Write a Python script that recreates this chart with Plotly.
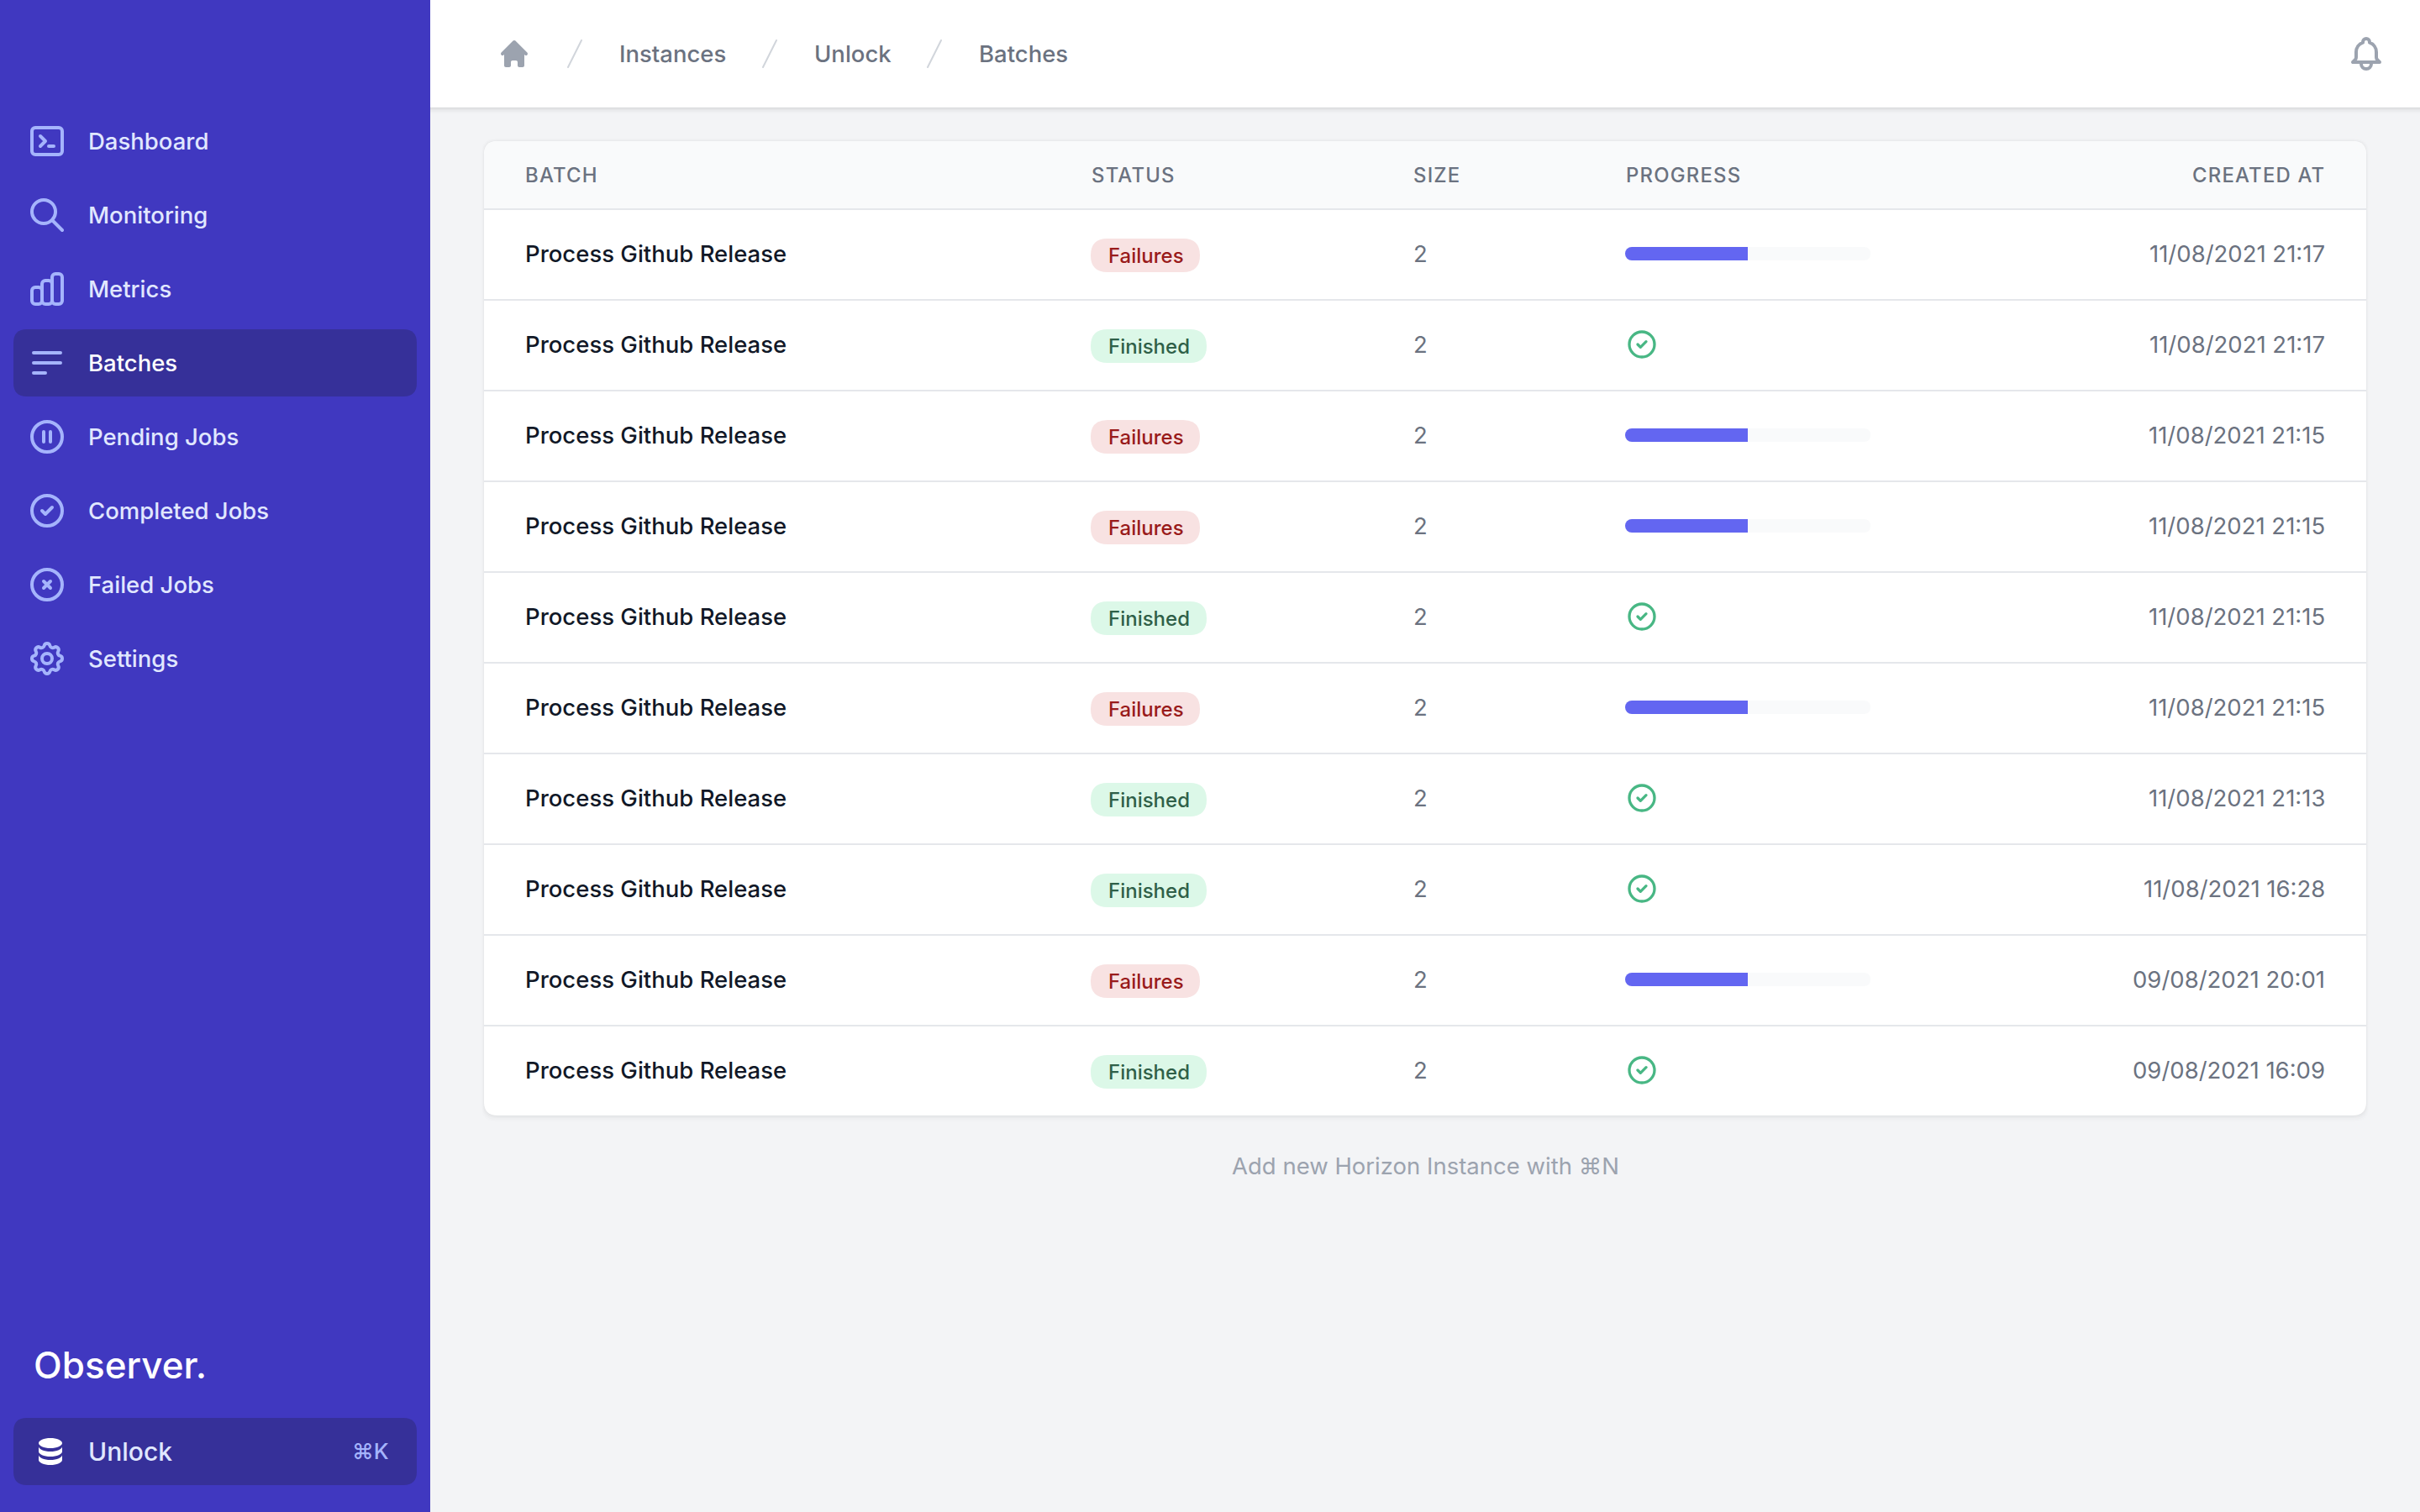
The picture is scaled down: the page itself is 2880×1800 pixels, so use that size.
import math
import re
import plotly.graph_objects as go

WIDTH = 2880
HEIGHT = 1800

# table content
batch_names = ["Process Github Release"] * 10
statuses = ["Failures", "Finished", "Failures", "Failures", "Finished",
            "Failures", "Finished", "Finished", "Failures", "Finished"]
sizes = [2, 2, 2, 2, 2, 2, 2, 2, 2, 2]
progress = [50, 100, 50, 50, 100, 50, 100, 100, 50, 100]
created_at = ["11/08/2021 21:17", "11/08/2021 21:17", "11/08/2021 21:15",
              "11/08/2021 21:15", "11/08/2021 21:15", "11/08/2021 21:15",
              "11/08/2021 21:13", "11/08/2021 16:28", "09/08/2021 20:01",
              "09/08/2021 16:09"]
columns = ["BATCH", "STATUS", "SIZE", "PROGRESS", "CREATED AT"]
menu_items = ["Dashboard", "Monitoring", "Metrics", "Batches", "Pending Jobs",
              "Completed Jobs", "Failed Jobs", "Settings"]
crumbs = ["Instances", "Unlock", "Batches"]

FONT = "Inter, 'DejaVu Sans', sans-serif"
INDIGO = "#4038c0"
INDIGO_DARK = "#363099"
ROW_TOP = 248
ROW_H = 108
TEXT = 27.5

# heroicons
ICONS = {
    "Dashboard": "M8 9l3 3-3 3m5 0h3M5 20h14a2 2 0 002-2V6a2 2 0 00-2-2H5a2 2 0 00-2 2v12a2 2 0 002 2z",
    "Monitoring": "M21 21l-6-6m2-5a7 7 0 11-14 0 7 7 0 0114 0z",
    "Metrics": "M9 19v-6a2 2 0 00-2-2H5a2 2 0 00-2 2v6a2 2 0 002 2h2a2 2 0 002-2zm0 0V9a2 2 0 012-2h2a2 2 0 012 2v10m-6 0a2 2 0 002 2h2a2 2 0 002-2m0 0V5a2 2 0 012-2h2a2 2 0 012 2v14a2 2 0 01-2 2h-2a2 2 0 01-2-2z",
    "Batches": "M4 6h16M4 12h16M4 18h7",
    "Pending Jobs": "M10 9v6m4-6v6m7-3a9 9 0 11-18 0 9 9 0 0118 0z",
    "Completed Jobs": "M9 12l2 2 4-4m6 2a9 9 0 11-18 0 9 9 0 0118 0z",
    "Failed Jobs": "M10 14l2-2m0 0l2-2m-2 2l-2-2m2 2l2 2m7-2a9 9 0 11-18 0 9 9 0 0118 0z",
    "Settings": "M10.325 4.317c.426-1.756 2.924-1.756 3.35 0a1.724 1.724 0 002.573 1.066c1.543-.94 3.31.826 2.37 2.37a1.724 1.724 0 001.065 2.572c1.756.426 1.756 2.924 0 3.35a1.724 1.724 0 00-1.066 2.573c.94 1.543-.826 3.31-2.37 2.37a1.724 1.724 0 00-2.572 1.065c-.426 1.756-2.924 1.756-3.35 0a1.724 1.724 0 00-2.573-1.066c-1.543.94-3.31-.826-2.37-2.37a1.724 1.724 0 00-1.065-2.572c-1.756-.426-1.756-2.924 0-3.35a1.724 1.724 0 001.066-2.573c-.94-1.543.826-3.31 2.37-2.37.996.608 2.296.07 2.572-1.065zM15 12a3 3 0 11-6 0 3 3 0 016 0z",
}
BELL = "M15 17h5l-1.405-1.405A2.032 2.032 0 0118 14.158V11a6.002 6.002 0 00-4-5.659V5a2 2 0 10-4 0v.341C7.67 6.165 6 8.388 6 11v3.159c0 .538-.214 1.055-.595 1.436L4 17h5m6 0v1a3 3 0 11-6 0v-1m6 0H9"
HOME = "M10.707 2.293a1 1 0 00-1.414 0l-7 7a1 1 0 001.414 1.414L4 10.414V17a1 1 0 001 1h2a1 1 0 001-1v-2a1 1 0 011-1h2a1 1 0 011 1v2a1 1 0 001 1h2a1 1 0 001-1v-6.586l.293.293a1 1 0 001.414-1.414l-7-7z"
DATABASE = "M3 12v3c0 1.657 3.134 3 7 3s7-1.343 7-3v-3c0 1.657-3.134 3-7 3s-7-1.343-7-3zM3 7v3c0 1.657 3.134 3 7 3s7-1.343 7-3V7c0 1.657-3.134 3-7 3S3 8.657 3 7zM17 5c0 1.657-3.134 3-7 3S3 6.657 3 5s3.134-3 7-3 7 1.343 7 3z"
CHECK = ICONS["Completed Jobs"]

NUM = r"-?\d*\.?\d+"


def arc_args(args):
    # flags in svg arcs can be written with no separators
    out = []
    pos = 0
    while True:
        vals = []
        for kind in "nnnffnn":
            m = re.compile(r"[\s,]*").match(args, pos)
            pos = m.end()
            if pos >= len(args):
                return out
            if kind == "f":
                vals.append(int(args[pos]))
                pos += 1
            else:
                m = re.compile(NUM).match(args, pos)
                vals.append(float(m.group()))
                pos = m.end()
        out.append(vals)


def arc_to_cubics(x1, y1, r, large, sweep, x2, y2):
    dx, dy = (x1 - x2) / 2, (y1 - y2) / 2
    d2 = dx * dx + dy * dy
    if r * r < d2:
        r = math.sqrt(d2)
    k = math.sqrt(max(0, (r * r - d2) / d2))
    if large == sweep:
        k = -k
    cx = k * dy + (x1 + x2) / 2
    cy = -k * dx + (y1 + y2) / 2
    a1 = math.atan2(y1 - cy, x1 - cx)
    a2 = math.atan2(y2 - cy, x2 - cx)
    da = a2 - a1
    if sweep and da < 0:
        da += 2 * math.pi
    if not sweep and da > 0:
        da -= 2 * math.pi
    n = max(1, math.ceil(abs(da) / (math.pi / 2) - 1e-6))
    step = da / n
    t = 4 / 3 * math.tan(step / 4)
    segs = []
    for i in range(n):
        p = a1 + i * step
        q = p + step
        segs.append([cx + r * (math.cos(p) - t * math.sin(p)), cy + r * (math.sin(p) + t * math.cos(p)),
                     cx + r * (math.cos(q) + t * math.sin(q)), cy + r * (math.sin(q) - t * math.cos(q)),
                     cx + r * math.cos(q), cy + r * math.sin(q)])
    return segs


def icon_path(d, x0, y0, s):
    # plotly shape paths have no arcs, so write it all as M L C Z
    out = []
    cx = cy = sx = sy = 0
    last_c = None

    def pt(x, y):
        return f"{x0 + x * s:.2f},{y0 + y * s:.2f}"

    for cmd, args in re.findall(r"([MmLlHhVvCcSsAaZz])([^MmLlHhVvCcSsAaZz]*)", d):
        rel = cmd.islower()
        c = cmd.upper()
        if c == "Z":
            out.append("Z")
            cx, cy = sx, sy
            last_c = None
            continue
        if c == "A":
            for rx, ry, rot, large, sweep, x, y in arc_args(args):
                if rel:
                    x, y = x + cx, y + cy
                for b in arc_to_cubics(cx, cy, rx, large, sweep, x, y):
                    out.append(f"C{pt(b[0], b[1])} {pt(b[2], b[3])} {pt(b[4], b[5])}")
                cx, cy = x, y
            last_c = None
            continue
        nums = [float(v) for v in re.findall(NUM, args)]
        n = {"M": 2, "L": 2, "H": 1, "V": 1, "C": 6, "S": 4}[c]
        for i in range(0, len(nums), n):
            v = nums[i:i + n]
            if c == "H":
                x = v[0] + cx if rel else v[0]
                y = cy
            elif c == "V":
                x = cx
                y = v[0] + cy if rel else v[0]
            else:
                x = v[-2] + cx if rel else v[-2]
                y = v[-1] + cy if rel else v[-1]
            if c == "M":
                out.append("M" + pt(x, y))
                sx, sy = x, y
            elif c in "LHV":
                out.append("L" + pt(x, y))
            else:
                off = (cx, cy) if rel else (0, 0)
                if c == "C":
                    c1 = (v[0] + off[0], v[1] + off[1])
                    c2 = (v[2] + off[0], v[3] + off[1])
                else:
                    c1 = (2 * cx - last_c[0], 2 * cy - last_c[1]) if last_c else (cx, cy)
                    c2 = (v[0] + off[0], v[1] + off[1])
                out.append(f"C{pt(*c1)} {pt(*c2)} {pt(x, y)}")
                last_c = c2
            if c not in "CS":
                last_c = None
            cx, cy = x, y
    return " ".join(out)


def rrect(x0, y0, x1, y1, r, bottom=True):
    if bottom:
        end = f"L{x1},{y1 - r} Q{x1},{y1} {x1 - r},{y1} L{x0 + r},{y1} Q{x0},{y1} {x0},{y1 - r}"
    else:
        end = f"L{x1},{y1} L{x0},{y1}"
    return f"M{x0 + r},{y0} L{x1 - r},{y0} Q{x1},{y0} {x1},{y0 + r} {end} L{x0},{y0 + r} Q{x0},{y0} {x0 + r},{y0} Z"


shapes = []


def fill_shape(path, color):
    shapes.append(dict(type="path", path=path, xref="x", yref="y", fillcolor=color,
                       line=dict(width=0), layer="below"))


def stroke_shape(path, color, width):
    shapes.append(dict(type="path", path=path, xref="x", yref="y",
                       line=dict(color=color, width=width), layer="below"))


annotations = []


def label(text, x, y, size, color, anchor="left", weight=400):
    annotations.append(dict(text=text, x=x, y=y, xref="x", yref="y", xanchor=anchor, yanchor="middle",
                            showarrow=False, align=anchor, borderpad=0,
                            font=dict(family=FONT, size=size, color=color, weight=weight)))


# top bar with its shadow
for grow, alpha in [(7, 0.012), (5, 0.018), (3, 0.03), (1, 0.05)]:
    fill_shape(rrect(512, 0, WIDTH, 128 + grow, 0), f"rgba(0,0,0,{alpha})")
fill_shape(rrect(512, 0, WIDTH, 128, 0), "#ffffff")

# sidebar
fill_shape(rrect(0, 0, 512, HEIGHT, 0), INDIGO)
fill_shape(rrect(16, 392, 496, 472, 16), INDIGO_DARK)
fill_shape(rrect(16, 1688, 496, 1768, 16), INDIGO_DARK)
for i, item in enumerate(menu_items):
    yc = 168 + 88 * i
    stroke_shape(icon_path(ICONS[item], 32, yc - 24, 2), "#a5b4fc", 4)
    label(item, 103.5, yc, TEXT, "#ffffff" if item == "Batches" else "#e0e7ff", weight=500)
label("Observer.", 39, 1625, 44, "#ffffff", weight=500)
fill_shape(icon_path(DATABASE, 40, 1708, 2), "#ffffff")
label("Unlock", 103.5, 1728, 30, "#e0e7ff", weight=500)
label("⌘K", 464, 1727, 26, "#a5b4fc", anchor="right", weight=500)

# breadcrumb
fill_shape(icon_path(HOME, 592, 44, 2), "#9ca3af")
for text, tx, sx in zip(crumbs, [736, 968, 1164], [676, 908, 1104]):
    stroke_shape(f"M{sx},80 L{sx + 16},48", "#d1d5db", 2)
    label(text, tx, 64, TEXT, "#6b7280", weight=500)
stroke_shape(icon_path(BELL, 2792, 40, 2), "#9ca3af", 4)

# card
for grow, alpha in [(7, 0.008), (5, 0.012), (3, 0.02), (1, 0.03)]:
    fill_shape(rrect(576 - grow // 2, 168 - grow // 2, 2816 + grow // 2, 1328 + grow, 16), f"rgba(0,0,0,{alpha})")
fill_shape(rrect(576, 168, 2816, 1328, 16), "#ffffff")
fill_shape(rrect(576, 168, 2816, ROW_TOP, 16, bottom=False), "#f9fafb")

column_x = [623.5, 1297.5, 1681, 1934, 2768]
for j, text in enumerate(columns):
    spaced = f'<span style="letter-spacing:1.2px">{text}</span>'
    label(spaced, column_x[j], 208, 23.9, "#6b7280", anchor="right" if j == 4 else "left", weight=500)

for i in range(len(batch_names)):
    yc = ROW_TOP + ROW_H * i + ROW_H // 2
    line_y = ROW_TOP + ROW_H * i
    fill_shape(rrect(576, line_y, 2816, line_y + 2, 0), "#e5e7eb")
    label(batch_names[i], column_x[0], yc, TEXT, "#111827", weight=500)
    label(str(sizes[i]), column_x[2], yc, TEXT, "#6b7280")
    label(created_at[i], column_x[4], yc, TEXT, "#6b7280", anchor="right")
    if statuses[i] == "Failures":
        fill_shape(rrect(1298, yc - 18, 1428, yc + 22, 20), "#f8e2e2")
        label(statuses[i], 1317.5, yc + 2, 24, "#991b1b", weight=500)
        fill_shape(rrect(1934, yc - 8, 2226, yc + 8, 8), "#f9fafb")
    else:
        fill_shape(rrect(1298, yc - 18, 1436, yc + 22, 20), "#dcf8e8")
        label(statuses[i], 1317.5, yc + 2, 24, "#2f6048", weight=500)
        stroke_shape(icon_path(CHECK, 1934, yc - 20, 40 / 24), "#48b784", 3.3)

label("Add new Horizon Instance with ⌘N", 1696, 1388, TEXT, "#9ca3af", anchor="center")

# only unfinished batches get a bar
bar_rows = [i for i, p in enumerate(progress) if p < 100]
bar_values = [progress[i] for i in bar_rows]

fig = go.Figure()
# grown from the right so the rounded tip is on the left, square one on top for the right end
fig.add_trace(go.Bar(
    y=bar_rows,
    x=[-v for v in bar_values],
    base=bar_values,
    orientation="h",
    width=16 / ROW_H,
    xaxis="x2",
    yaxis="y2",
    marker=dict(color="#6366f1", cornerradius=8, line=dict(width=0)),
    hoverinfo="skip",
    showlegend=False,
))
fig.add_trace(go.Bar(
    y=bar_rows,
    x=[v / 2 for v in bar_values],
    base=[v / 2 for v in bar_values],
    orientation="h",
    width=16 / ROW_H,
    xaxis="x2",
    yaxis="y2",
    marker=dict(color="#6366f1", line=dict(width=0)),
    hoverinfo="skip",
    showlegend=False,
))

fig.update_layout(
    width=WIDTH,
    height=HEIGHT,
    margin=dict(l=0, r=0, t=0, b=0),
    paper_bgcolor="#f3f4f6",
    plot_bgcolor="rgba(0,0,0,0)",
    showlegend=False,
    barmode="overlay",
    shapes=shapes,
    annotations=annotations,
    xaxis=dict(range=[0, WIDTH], domain=[0, 1], visible=False, fixedrange=True),
    yaxis=dict(range=[HEIGHT, 0], domain=[0, 1], visible=False, fixedrange=True),
    xaxis2=dict(range=[0, 100], domain=[1934 / WIDTH, 2226 / WIDTH], visible=False, fixedrange=True, anchor="y2"),
    yaxis2=dict(range=[len(batch_names) - 0.5, -0.5],
                domain=[1 - (ROW_TOP + ROW_H * len(batch_names)) / HEIGHT, 1 - ROW_TOP / HEIGHT],
                visible=False, fixedrange=True, anchor="x2"),
)

# icons have round line ends, shapes have no option for it
ROUND_CAPS = """
document.body.style.margin = '0';
document.querySelectorAll('.shapelayer path').forEach(function (p) {
    p.style.strokeLinecap = 'round';
    p.style.strokeLinejoin = 'round';
});
"""

fig.write_html("out.html", config={"displayModeBar": False}, post_script=ROUND_CAPS)
